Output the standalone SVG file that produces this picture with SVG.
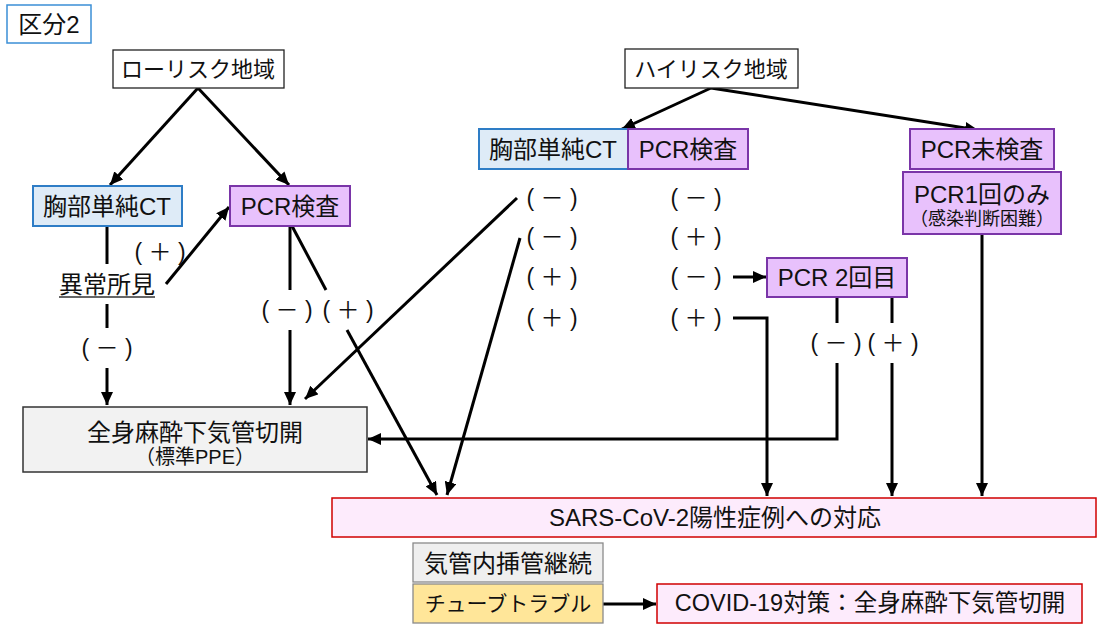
<svg xmlns="http://www.w3.org/2000/svg" width="1098" height="624" viewBox="0 0 1098 624">
<style>
text{font-family:"Liberation Sans","Noto Sans CJK JP",sans-serif;fill:#111;text-anchor:middle;dominant-baseline:central}
.t{font-size:24px}
.k{font-size:22px}
.s{font-size:18px}
.pm{font-size:23px}
.bw{fill:#fff;stroke:#222;stroke-width:1.3}
.bl{fill:#deebf7;stroke:#2e7dc6;stroke-width:2}
.pu{fill:#e8c1fc;stroke:#7a35a8;stroke-width:2}
.gr{fill:#f2f2f2;stroke:#333;stroke-width:1.5}
.rd{fill:#fdebfc;stroke:#d00000;stroke-width:1.5}
.ge{fill:#efefef;stroke:#8a8a8a;stroke-width:1.3}
.ye{fill:#ffe699;stroke:#8a8a8a;stroke-width:1.3}
.c line,.c polyline{stroke:#000;stroke-width:3;fill:none}
</style>
<defs>
<marker id="ah" markerUnits="userSpaceOnUse" markerWidth="14" markerHeight="12" refX="13" refY="6" orient="auto">
<path d="M0,0 L13,6 L0,12 z" fill="#000"/>
</marker>
</defs>

<g id="kubun">
<rect x="7" y="5" width="84" height="38" fill="#fff" stroke="#3b8fd6" stroke-width="1.5"/>
<text class="t" x="49" y="24">区分2</text>
</g>

<g class="c" id="connectors">
<line x1="198" y1="88" x2="110" y2="185" marker-end="url(#ah)"/>
<line x1="198" y1="88" x2="289" y2="185" marker-end="url(#ah)"/>
<line x1="107" y1="226" x2="107" y2="264"/>
<line x1="107" y1="304" x2="107" y2="328"/>
<line x1="107" y1="368" x2="107" y2="405" marker-end="url(#ah)"/>
<line x1="166" y1="284" x2="229" y2="207" marker-end="url(#ah)"/>
<line x1="290" y1="226" x2="290" y2="290"/>
<line x1="290" y1="330" x2="290" y2="405" marker-end="url(#ah)"/>
<line x1="292" y1="226" x2="326" y2="290"/>
<line x1="347" y1="330" x2="437" y2="495" marker-end="url(#ah)"/>
<line x1="517" y1="198" x2="305" y2="399" marker-end="url(#ah)"/>
<line x1="520" y1="238" x2="447" y2="495" marker-end="url(#ah)"/>
<line x1="711" y1="88" x2="622" y2="129" marker-end="url(#ah)"/>
<line x1="711" y1="88" x2="978" y2="130" marker-end="url(#ah)"/>
<line x1="733" y1="277" x2="766" y2="277" marker-end="url(#ah)"/>
<polyline points="733,318 767,318 767,496" marker-end="url(#ah)"/>
<line x1="837" y1="297" x2="837" y2="323"/>
<polyline points="837,363 837,439 368,439" marker-end="url(#ah)"/>
<line x1="892" y1="297" x2="892" y2="323"/>
<line x1="892" y1="363" x2="892" y2="496" marker-end="url(#ah)"/>
<line x1="982" y1="234" x2="982" y2="496" marker-end="url(#ah)"/>
<line x1="603" y1="604" x2="656" y2="604" stroke-width="5" marker-end="url(#ah)"/>
</g>

<g id="lowrisk">
<rect class="bw" x="113" y="50" width="171" height="38"/>
<text class="k" x="198" y="69">ローリスク地域</text>
</g>
<g id="ct-low">
<rect class="bl" x="33" y="186" width="149" height="40"/>
<text class="t" x="107" y="206">胸部単純CT</text>
</g>
<g id="pcr-low">
<rect class="pu" x="230" y="186" width="120" height="40"/>
<text class="t" x="290" y="206">PCR検査</text>
</g>
<g id="ijou">
<text class="t" x="107" y="284">異常所見</text>
<line x1="59" y1="297" x2="155" y2="297" stroke="#333" stroke-width="1.3"/>
</g>
<g id="lbl-low">
<text class="pm" x="160" y="252">( ＋ )</text>
<text class="pm" x="107" y="348">( － )</text>
<text class="pm" x="287" y="310">( － )</text>
<text class="pm" x="348" y="310">( ＋ )</text>
</g>
<g id="zenshin">
<rect class="gr" x="23" y="407" width="344" height="65"/>
<text class="t" x="195" y="432">全身麻酔下気管切開</text>
<text x="195" y="457" style="font-size:20px">（標準PPE）</text>
</g>

<g id="highrisk">
<rect class="bw" x="625" y="49" width="173" height="39"/>
<text class="k" x="711" y="69">ハイリスク地域</text>
</g>
<g id="ct-high">
<rect class="bl" x="479" y="129" width="149" height="40"/>
<text class="t" x="553" y="149">胸部単純CT</text>
</g>
<g id="pcr-high">
<rect class="pu" x="628" y="129" width="120" height="40"/>
<text class="t" x="688" y="149">PCR検査</text>
</g>
<g id="grid">
<text class="pm" x="552" y="198">( － )</text>
<text class="pm" x="696" y="198">( － )</text>
<text class="pm" x="552" y="237">( － )</text>
<text class="pm" x="696" y="237">( ＋ )</text>
<text class="pm" x="552" y="277">( ＋ )</text>
<text class="pm" x="696" y="277">( － )</text>
<text class="pm" x="552" y="318">( ＋ )</text>
<text class="pm" x="696" y="318">( ＋ )</text>
</g>
<g id="pcr2">
<rect class="pu" x="767" y="258" width="140" height="39"/>
<text class="t" x="837" y="277">PCR 2回目</text>
</g>
<g id="lbl-pcr2">
<text class="pm" x="836" y="343">( － )</text>
<text class="pm" x="893" y="343">( ＋ )</text>
</g>
<g id="pcr-mi">
<rect class="pu" x="910" y="129" width="144" height="40"/>
<text class="t" x="982" y="149">PCR未検査</text>
</g>
<g id="pcr1">
<rect class="pu" x="903" y="172" width="158" height="62"/>
<text class="t" x="982" y="194">PCR1回のみ</text>
<text class="s" x="982" y="219">（感染判断困難）</text>
</g>
<g id="sars">
<rect class="rd" x="332" y="498" width="764" height="39"/>
<text class="t" x="715" y="517">SARS-CoV-2陽性症例への対応</text>
</g>
<g id="intub">
<rect class="ge" x="413" y="543" width="190" height="39"/>
<text class="t" x="508" y="563">気管内挿管継続</text>
</g>
<g id="tube">
<rect class="ye" x="413" y="584" width="190" height="39"/>
<text x="508" y="603" style="font-size:21px">チューブトラブル</text>
</g>
<g id="covid">
<rect class="rd" x="657" y="584" width="425" height="39"/>
<text x="870" y="603" style="font-size:23.5px">COVID-19対策：全身麻酔下気管切開</text>
</g>
</svg>
